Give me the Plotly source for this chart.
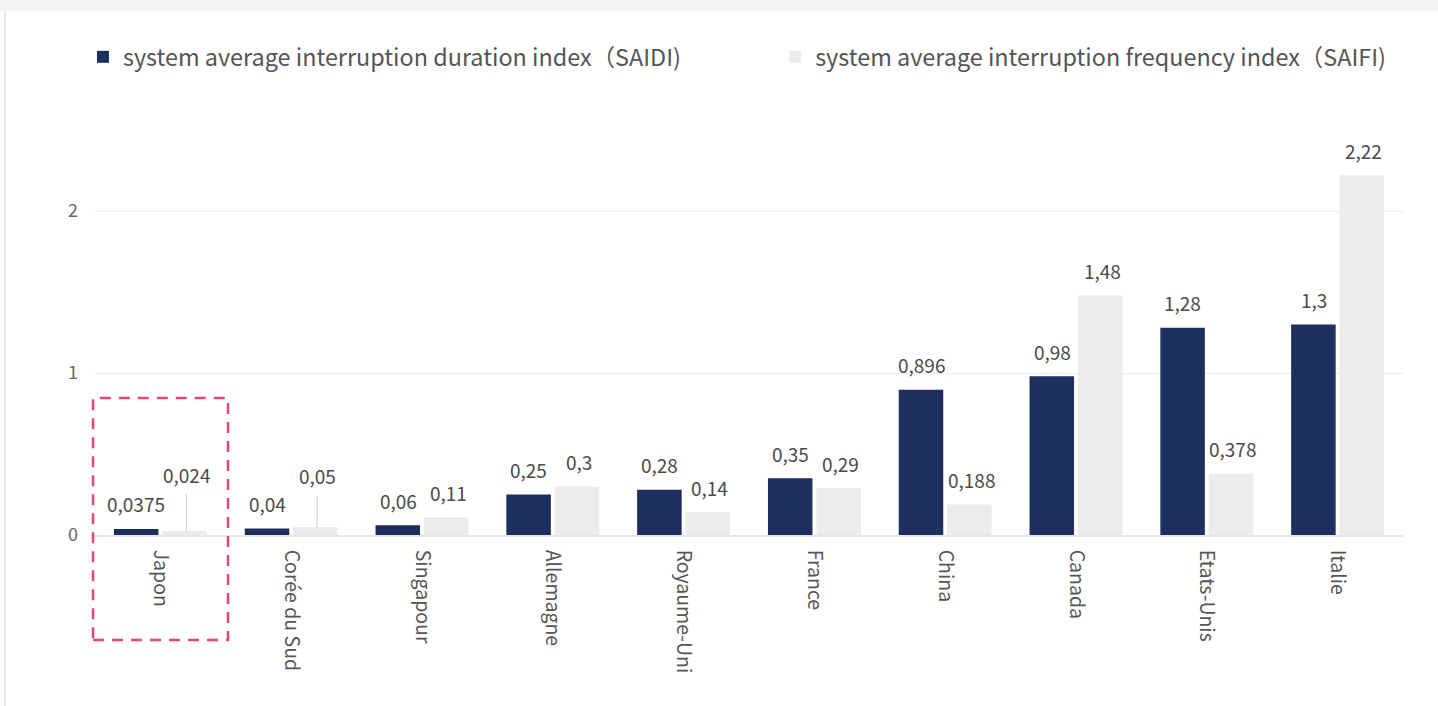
import plotly.graph_objects as go

categories = ["Japon", "Corée du Sud", "Singapour", "Allemagne", "Royaume-Uni",
              "France", "China", "Canada", "Etats-Unis", "Italie"]
saidi = [0.0375, 0.04, 0.06, 0.25, 0.28, 0.35, 0.896, 0.98, 1.28, 1.3]
saifi = [0.024, 0.05, 0.11, 0.3, 0.14, 0.29, 0.188, 1.48, 0.378, 2.22]
saidi_name = "system average interruption duration index（SAIDI)"
saifi_name = "system average interruption frequency index（SAIFI)"
y_ticks = [0, 1, 2]

FONT = "Noto Sans CJK SC, Noto Sans, sans-serif"
NAVY = "#1c2f5f"
LIGHT = "#ececec"
TXT = "#4a4a4a"

def fmt(v):
    return f"{v:g}".replace(".", ",")

fig = go.Figure()
fig.add_trace(go.Bar(x=categories, y=saidi, name=saidi_name, legend="legend",
                     marker=dict(color=NAVY, line=dict(width=0))))
fig.add_trace(go.Bar(x=categories, y=saifi, name=saifi_name, legend="legend2",
                     marker=dict(color=LIGHT, line=dict(width=0))))

annotations = []
leader = {"Japon": -57, "Corée du Sud": -51}
LBL = dict(family=FONT, size=19, color=TXT)
for c, a, b in zip(categories, saidi, saifi):
    annotations.append(dict(x=c, y=a, xref="x", yref="y", text=fmt(a), showarrow=False,
                            xshift=-24, yshift=25, yanchor="middle", font=LBL))
    if c in leader:
        annotations.append(dict(x=c, y=b, xref="x", yref="y", text=fmt(b), showarrow=True,
                                arrowhead=0, arrowwidth=1.2, arrowcolor="#d6d6d6",
                                ax=0, ay=leader[c], xshift=26, standoff=0, borderpad=6,
                                font=LBL))
    else:
        annotations.append(dict(x=c, y=b, xref="x", yref="y", text=fmt(b), showarrow=False,
                                xshift=26, yshift=25, yanchor="middle", font=LBL))

shapes = [
    # page chrome
    dict(type="rect", xref="paper", yref="paper", x0=-0.08, x1=1.04, y0=1.293, y1=1.335,
         fillcolor="#f3f3f3", line=dict(width=0), layer="below"),
    dict(type="line", xref="paper", yref="paper", x0=-0.0688, x1=-0.0688, y0=-0.43, y1=1.293,
         line=dict(color="#e6e6e6", width=2)),
    # highlight box around Japon
    dict(type="rect", xref="paper", yref="paper", x0=-0.0015, x1=0.1017, y0=-0.259, y1=0.338,
         line=dict(color="#e8457a", width=2.5, dash="11px,8px"), fillcolor="rgba(0,0,0,0)"),
]

LEG_FONT = dict(family=FONT, size=23.4, color="#555555")
fig.update_layout(
    width=1438, height=706,
    margin=dict(l=95, r=35, t=130, b=171),
    paper_bgcolor="white", plot_bgcolor="white",
    barmode="group", bargap=0.26, bargroupgap=0.08,
    separators=", ",
    font=dict(family=FONT, color=TXT),
    showlegend=True,
    legend=dict(orientation="h", x=-0.0092, xanchor="left", y=1.18, yanchor="middle",
                font=LEG_FONT, bgcolor="rgba(0,0,0,0)"),
    legend2=dict(orientation="h", x=0.52, xanchor="left", y=1.18, yanchor="middle",
                 font=LEG_FONT, bgcolor="rgba(0,0,0,0)"),
    annotations=annotations,
    shapes=shapes,
)
fig.update_xaxes(tickangle=90, showgrid=False, showline=True, linecolor="#e6e6e6",
                 linewidth=1.5, ticks="", tickfont=dict(family=FONT, size=19.5, color="#555555"),
                 ticklabelstandoff=9)
fig.update_yaxes(range=[0, 2.5], tickvals=y_ticks, showgrid=True, gridcolor="#ececec",
                 gridwidth=1, zeroline=False, showline=False, ticks="",
                 tickfont=dict(family=FONT, size=18, color="#666666"),
                 ticklabelstandoff=16)

fig.write_html("out.html", config={"displayModeBar": False},
               post_script="document.body.style.margin='0px';")
